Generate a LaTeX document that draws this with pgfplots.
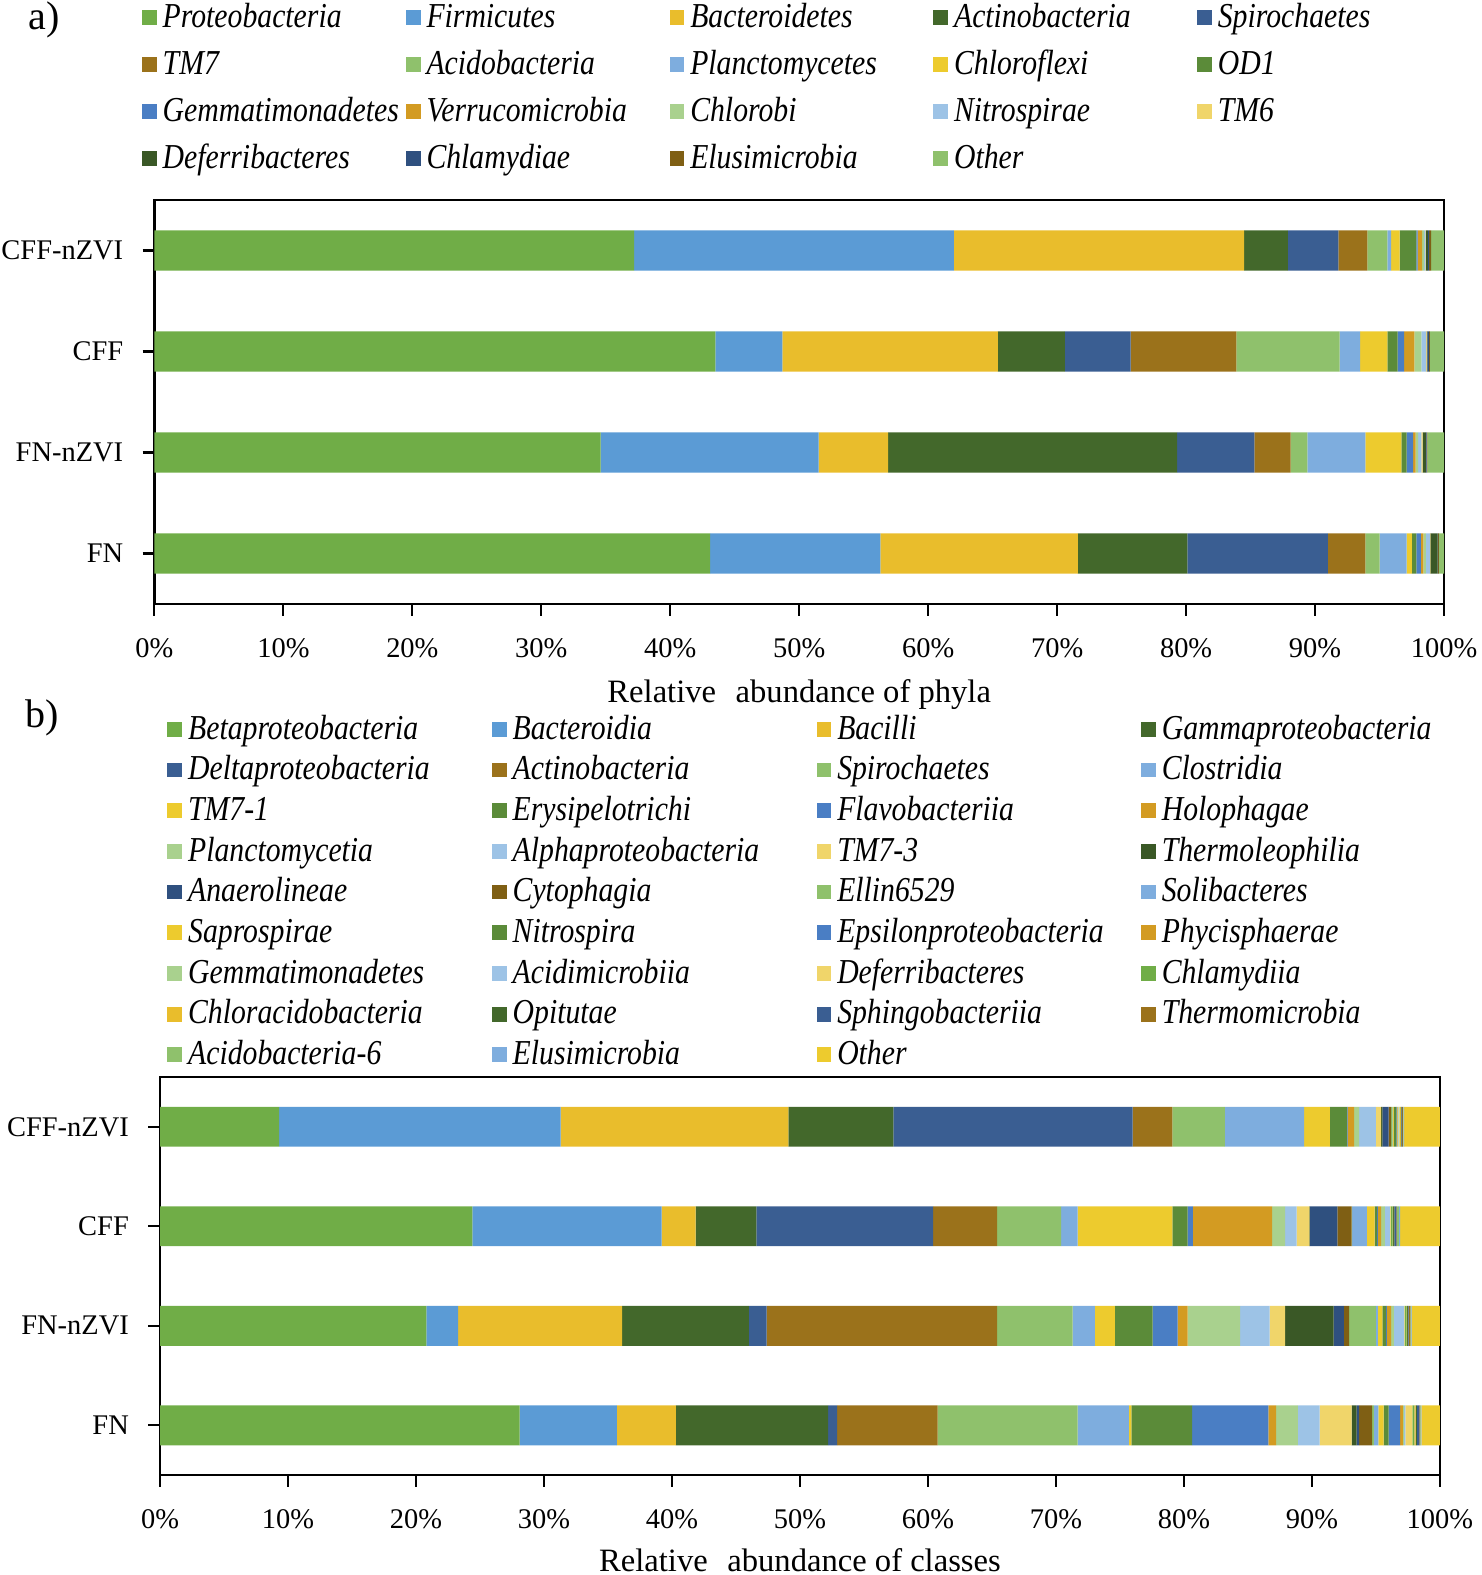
\documentclass[border=0pt]{standalone}
\usepackage{pgfplots}
\pgfplotsset{compat=1.18}
\usepackage{fontspec}
\setmainfont{Liberation Serif}
\newfontfamily\legfont[FakeStretch=0.85]{Liberation Serif}

% Excel-like green / blue / gold cycle
\definecolor{c1}{HTML}{70AD47}
\definecolor{c2}{HTML}{5B9BD5}
\definecolor{c3}{HTML}{E9BD2C}
\definecolor{c4}{HTML}{43682B}
\definecolor{c5}{HTML}{3A5E92}
\definecolor{c6}{HTML}{9B721B}
\definecolor{c7}{HTML}{8FC16C}
\definecolor{c8}{HTML}{7EADDE}
\definecolor{c9}{HTML}{EDCB2E}
\definecolor{c10}{HTML}{5B8B39}
\definecolor{c11}{HTML}{4A7EC4}
\definecolor{c12}{HTML}{D39B22}
\definecolor{c13}{HTML}{A9D18E}
\definecolor{c14}{HTML}{9DC3E6}
\definecolor{c15}{HTML}{F0D56A}
\definecolor{c16}{HTML}{3A5826}
\definecolor{c17}{HTML}{2F507F}
\definecolor{c18}{HTML}{7F5F14}

\newcommand{\legA}[1]{\makebox[82pt][l]{#1}}
\newcommand{\legB}[1]{\makebox[102.5pt][l]{#1}}

\pgfplotsset{
  seg/.style={fill=#1, draw=none,
    legend image code/.code={\fill[#1] (0pt,-2.2pt) rectangle (5pt,2.8pt);}},
  panel/.style={
    scale only axis, xbar stacked, bar width=0.4,
    xmin=0, xmax=100, ymin=-0.5, ymax=3.5,
    xtick={0,10,...,100}, ytick={0,1,2,3},
    yticklabels={FN,FN-nZVI,CFF,CFF-nZVI},
    xticklabel={\pgfmathprintnumber{\tick}\%},
    /pgf/number format/assume math mode=true,
    tick align=outside, tick pos=left,
    major tick length=4pt,
    tick style={black, line width=0.7pt},
    axis line style={black, line width=0.8pt},
    ticklabel style={font=\fontsize{9.6}{11}\selectfont},
    yticklabel style={xshift=-3pt},
    xticklabel style={yshift=-4pt},
    label style={font=\fontsize{11}{13}\selectfont},
    legend cell align=left,
    legend style={draw=none, fill=none, inner sep=0pt, anchor=north west,
      font=\legfont\itshape\fontsize{11.8}{13}\selectfont,
      nodes={inner sep=0pt, text height=8.5pt, text depth=2.5pt},
      /tikz/every odd column/.append style={column sep=2pt}},
  },
}

\begin{document}
\begin{tikzpicture}
\useasboundingbox (0,0) rectangle (500pt,531.4pt);
\node[font=\fontsize{13.5}{15}\selectfont] at (14.8pt,524.6pt) {a)};
\node[font=\fontsize{13.5}{15}\selectfont] at (14.2pt,289.1pt) {b)};

% ---------------- a) phyla ----------------
\begin{axis}[panel, at={(52.1pt,327.6pt)}, anchor=south west,
  width=435.1pt, height=136.3pt,
  xlabel={Relative\hspace{0.6em}abundance of phyla},
  xlabel style={at={(axis description cs:0.5,-0.223)}, anchor=center},
  legend columns=5,
  legend style={at={(axis description cs:-0.0101,1.492)}, row sep=4.85pt}]
% coordinates: (value, row)  row 3 = CFF-nZVI, 2 = CFF, 1 = FN-nZVI, 0 = FN
\addplot[seg=c1]  coordinates {(37.2,3) (43.5,2) (34.6,1) (43.1,0)}; \addlegendentry{\legA{Proteobacteria}}
\addplot[seg=c2]  coordinates {(24.8,3) (5.2,2)  (16.9,1) (13.2,0)}; \addlegendentry{\legA{Firmicutes}}
\addplot[seg=c3]  coordinates {(22.5,3) (16.7,2) (5.4,1)  (15.3,0)}; \addlegendentry{\legA{Bacteroidetes}}
\addplot[seg=c4]  coordinates {(3.4,3)  (5.2,2)  (22.4,1) (8.5,0)};  \addlegendentry{\legA{Actinobacteria}}
\addplot[seg=c5]  coordinates {(3.9,3)  (5.1,2)  (6.0,1)  (10.9,0)}; \addlegendentry{\legA{Spirochaetes}}
\addplot[seg=c6]  coordinates {(2.25,3) (8.2,2)  (2.8,1)  (2.9,0)};  \addlegendentry{\legA{TM7}}
\addplot[seg=c7]  coordinates {(1.55,3) (8.0,2)  (1.3,1)  (1.1,0)};  \addlegendentry{\legA{Acidobacteria}}
\addplot[seg=c8]  coordinates {(0.3,3)  (1.6,2)  (4.5,1)  (2.1,0)};  \addlegendentry{\legA{Planctomycetes}}
\addplot[seg=c9]  coordinates {(0.65,3) (2.1,2)  (2.8,1)  (0.4,0)};  \addlegendentry{\legA{Chloroflexi}}
\addplot[seg=c10] coordinates {(1.3,3)  (0.8,2)  (0.4,1)  (0.35,0)}; \addlegendentry{\legA{OD1}}
\addplot[seg=c11] coordinates {(0.1,3)  (0.5,2)  (0.5,1)  (0.35,0)}; \addlegendentry{\legA{Gemmatimonadetes}}
\addplot[seg=c12] coordinates {(0.35,3) (0.8,2)  (0.2,1)  (0.2,0)};  \addlegendentry{\legA{Verrucomicrobia}}
\addplot[seg=c13] coordinates {(0.15,3) (0.55,2) (0.2,1)  (0.2,0)};  \addlegendentry{\legA{Chlorobi}}
\addplot[seg=c14] coordinates {(0.1,3)  (0.35,2) (0.25,1) (0.3,0)};  \addlegendentry{\legA{Nitrospirae}}
\addplot[seg=c15] coordinates {(0.05,3) (0.05,2) (0.1,1)  (0.05,0)}; \addlegendentry{\legA{TM6}}
\addplot[seg=c16] coordinates {(0.15,3) (0.05,2) (0.25,1) (0.55,0)}; \addlegendentry{\legA{Deferribacteres}}
\addplot[seg=c17] coordinates {(0.1,3)  (0.15,2) (0.05,1) (0.05,0)}; \addlegendentry{\legA{Chlamydiae}}
\addplot[seg=c18] coordinates {(0.15,3) (0.05,2) (0.05,1) (0.05,0)}; \addlegendentry{\legA{Elusimicrobia}}
\addplot[seg=c7]  coordinates {(1.0,3)  (1.1,2)  (1.3,1)  (0.4,0)};  \addlegendentry{\legA{Other}}
\end{axis}

% ---------------- b) classes ----------------
\begin{axis}[panel, at={(54.0pt,33.7pt)}, anchor=south west,
  width=431.8pt, height=134.3pt,
  xlabel={Relative\hspace{0.6em}abundance of classes},
  xlabel style={at={(axis description cs:0.5,-0.214)}, anchor=center},
  legend columns=4,
  legend style={at={(axis description cs:0.0053,1.914)}, row sep=2.73pt}]
\addplot[seg=c1]  coordinates {(9.3,3)  (24.4,2) (20.8,1) (28.1,0)}; \addlegendentry{\legB{Betaproteobacteria}}
\addplot[seg=c2]  coordinates {(22.0,3) (14.8,2) (2.5,1)  (7.6,0)};  \addlegendentry{\legB{Bacteroidia}}
\addplot[seg=c3]  coordinates {(17.8,3) (2.65,2) (12.8,1) (4.6,0)};  \addlegendentry{\legB{Bacilli}}
\addplot[seg=c4]  coordinates {(8.2,3)  (4.75,2) (9.9,1)  (11.9,0)}; \addlegendentry{\legB{Gammaproteobacteria}}
\addplot[seg=c5]  coordinates {(18.7,3) (13.8,2) (1.4,1)  (0.7,0)};  \addlegendentry{\legB{Deltaproteobacteria}}
\addplot[seg=c6]  coordinates {(3.1,3)  (5.0,2)  (18.0,1) (7.85,0)}; \addlegendentry{\legB{Actinobacteria}}
\addplot[seg=c7]  coordinates {(4.1,3)  (5.0,2)  (5.9,1)  (10.95,0)};\addlegendentry{\legB{Spirochaetes}}
\addplot[seg=c8]  coordinates {(6.2,3)  (1.3,2)  (1.75,1) (4.0,0)};  \addlegendentry{\legB{Clostridia}}
\addplot[seg=c9]  coordinates {(2.0,3)  (7.4,2)  (1.55,1) (0.2,0)};  \addlegendentry{\legB{TM7-1}}
\addplot[seg=c10] coordinates {(1.35,3) (1.2,2)  (2.95,1) (4.75,0)}; \addlegendentry{\legB{Erysipelotrichi}}
\addplot[seg=c11] coordinates {(0.05,3) (0.4,2)  (1.95,1) (5.95,0)}; \addlegendentry{\legB{Flavobacteriia}}
\addplot[seg=c12] coordinates {(0.5,3)  (6.2,2)  (0.8,1)  (0.6,0)};  \addlegendentry{\legB{Holophagae}}
\addplot[seg=c13] coordinates {(0.4,3)  (1.0,2)  (4.1,1)  (1.7,0)};  \addlegendentry{\legB{Planctomycetia}}
\addplot[seg=c14] coordinates {(1.3,3)  (0.9,2)  (2.3,1)  (1.7,0)};  \addlegendentry{\legB{Alphaproteobacteria}}
\addplot[seg=c15] coordinates {(0.4,3)  (1.0,2)  (1.2,1)  (2.5,0)};  \addlegendentry{\legB{TM7-3}}
\addplot[seg=c16] coordinates {(0.1,3)  (0.05,2) (3.8,1)  (0.4,0)};  \addlegendentry{\legB{Thermoleophilia}}
\addplot[seg=c17] coordinates {(0.5,3)  (2.15,2) (0.8,1)  (0.2,0)};  \addlegendentry{\legB{Anaerolineae}}
\addplot[seg=c18] coordinates {(0.2,3)  (1.1,2)  (0.4,1)  (1.0,0)};  \addlegendentry{\legB{Cytophagia}}
\addplot[seg=c7]  coordinates {(0.1,3)  (0.05,2) (2.1,1)  (0.15,0)}; \addlegendentry{\legB{Ellin6529}}
\addplot[seg=c8]  coordinates {(0.05,3) (1.15,2) (0.15,1) (0.35,0)}; \addlegendentry{\legB{Solibacteres}}
\addplot[seg=c9]  coordinates {(0.05,3) (0.6,2)  (0.35,1) (0.4,0)};  \addlegendentry{\legB{Saprospirae}}
\addplot[seg=c10] coordinates {(0.2,3)  (0.2,2)  (0.3,1)  (0.4,0)};  \addlegendentry{\legB{Nitrospira}}
\addplot[seg=c11] coordinates {(0.05,3) (0.05,2) (0.05,1) (0.9,0)};  \addlegendentry{\legB{Epsilonproteobacteria}}
\addplot[seg=c12] coordinates {(0.05,3) (0.25,2) (0.35,1) (0.2,0)};  \addlegendentry{\legB{Phycisphaerae}}
\addplot[seg=c13] coordinates {(0.05,3) (0.3,2)  (0.2,1)  (0.1,0)};  \addlegendentry{\legB{Gemmatimonadetes}}
\addplot[seg=c14] coordinates {(0.05,3) (0.4,2)  (0.8,1)  (0.1,0)};  \addlegendentry{\legB{Acidimicrobiia}}
\addplot[seg=c15] coordinates {(0.05,3) (0.05,2) (0.05,1) (0.55,0)}; \addlegendentry{\legB{Deferribacteres}}
\addplot[seg=c1]  coordinates {(0.05,3) (0.15,2) (0.15,1) (0.15,0)}; \addlegendentry{\legB{Chlamydiia}}
\addplot[seg=c3]  coordinates {(0.05,3) (0.05,2) (0.05,1) (0.1,0)};  \addlegendentry{\legB{Chloracidobacteria}}
\addplot[seg=c4]  coordinates {(0.05,3) (0.1,2)  (0.05,1) (0.1,0)};  \addlegendentry{\legB{Opitutae}}
\addplot[seg=c5]  coordinates {(0.05,3) (0.15,2) (0.05,1) (0.2,0)};  \addlegendentry{\legB{Sphingobacteriia}}
\addplot[seg=c6]  coordinates {(0.05,3) (0.05,2) (0.15,1) (0.05,0)}; \addlegendentry{\legB{Thermomicrobia}}
\addplot[seg=c7]  coordinates {(0.05,3) (0.15,2) (0.05,1) (0.05,0)}; \addlegendentry{\legB{Acidobacteria-6}}
\addplot[seg=c8]  coordinates {(0.05,3) (0.1,2)  (0.05,1) (0.05,0)}; \addlegendentry{\legB{Elusimicrobia}}
\addplot[seg=c9]  coordinates {(2.8,3)  (3.1,2)  (2.2,1)  (1.45,0)}; \addlegendentry{\legB{Other}}
\end{axis}
\end{tikzpicture}
\end{document}
